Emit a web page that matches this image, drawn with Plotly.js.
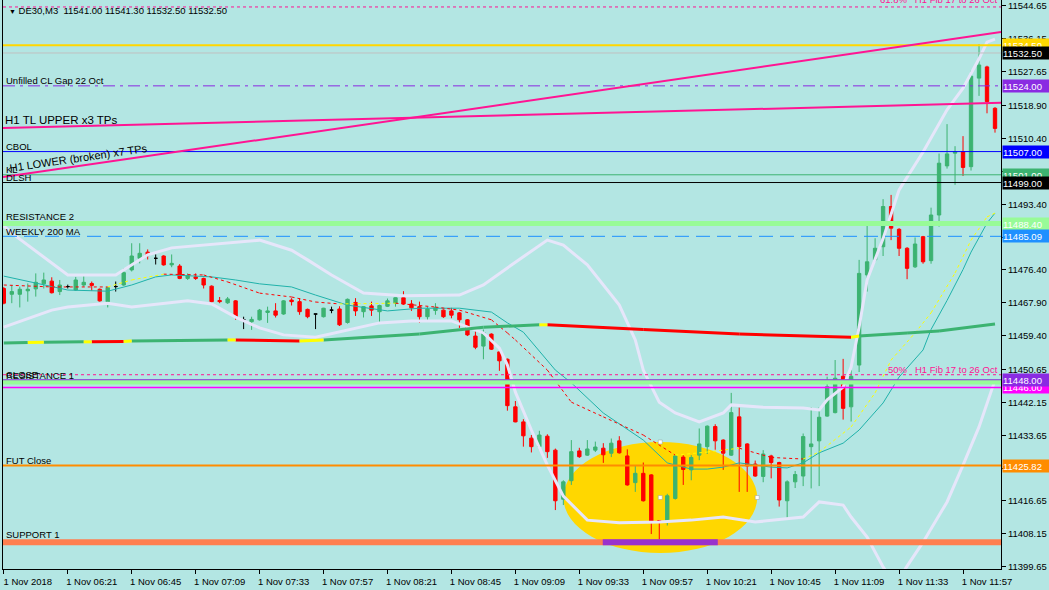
<!DOCTYPE html>
<html>
<head>
<meta charset="utf-8">
<script src="https://cdn.plot.ly/plotly-3.0.1.min.js"></script>
<style>
  html, body { margin: 0; padding: 0; background: #b3e6e3; }
  #chart { width: 1049px; height: 590px; }
</style>
</head>
<body>
<div id="chart"></div>
<script>
// DE30 M3, 1 Nov 2018 - one value per bar
const barOpen = [
  11471.6, 11470.1, 11470.1, 11471.0, 11471.5, 11472.8, 11473.5, 11470.8, 11472.1, 11471.2,
  11472.5, 11472.9, 11471.4, 11468.2, 11472.1, 11472.5, 11476.4, 11479.4, 11481.0, 11479.4,
  11480.0, 11477.7, 11477.4, 11474.2, 11474.6, 11474.2, 11472.2, 11468.5, 11467.9, 11468.4,
  11463.5, 11463.0, 11463.5, 11465.4, 11465.8, 11465.0, 11468.6, 11468.2, 11466.2, 11465.0,
  11464.3, 11466.0, 11466.3, 11462.8, 11468.0, 11465.6, 11467.1, 11465.6, 11467.0, 11467.8,
  11469.2, 11467.6, 11466.9, 11464.3, 11465.9, 11466.0, 11465.8, 11465.3, 11463.5, 11459.3,
  11456.7, 11459.8, 11455.2, 11453.3, 11441.0, 11437.1, 11432.9, 11430.7, 11433.4, 11429.8,
  11417.1, 11421.9, 11429.6, 11428.5, 11429.8, 11430.3, 11429.0, 11432.2, 11428.3, 11421.4,
  11423.8, 11423.4, 11411.6, 11411.3, 11417.3, 11428.0, 11424.7, 11428.5, 11430.7, 11435.9,
  11432.4, 11428.5, 11438.4, 11431.4, 11426.2, 11423.0, 11428.3, 11426.6, 11416.7, 11421.6,
  11423.1, 11430.7, 11432.2, 11438.6, 11439.5, 11448.9, 11441.0, 11451.8, 11475.1, 11479.0,
  11482.4, 11492.8, 11486.9, 11482.0, 11477.2, 11485.0, 11478.8, 11490.6, 11503.3, 11506.6,
  11507.0, 11503.1, 11526.0, 11528.9, 11518.2
];
const barHigh = [
  11472.0, 11472.5, 11472.1, 11472.9, 11475.5, 11475.7, 11474.5, 11473.8, 11472.6, 11474.6,
  11474.8, 11473.4, 11471.6, 11472.0, 11473.4, 11476.8, 11483.3, 11483.3, 11481.7, 11480.4,
  11480.2, 11480.4, 11477.9, 11475.5, 11475.5, 11474.4, 11472.4, 11469.4, 11469.4, 11468.6,
  11464.3, 11464.3, 11466.3, 11466.9, 11467.8, 11468.6, 11469.1, 11469.1, 11466.4, 11465.0,
  11466.6, 11466.9, 11467.0, 11469.0, 11469.1, 11467.0, 11468.2, 11467.4, 11469.0, 11469.3,
  11470.9, 11468.6, 11468.2, 11466.9, 11467.8, 11466.2, 11466.6, 11465.5, 11463.7, 11460.5,
  11461.0, 11460.0, 11455.4, 11453.5, 11442.5, 11437.8, 11433.7, 11434.8, 11433.9, 11430.2,
  11422.0, 11432.4, 11430.4, 11432.4, 11432.0, 11431.6, 11432.8, 11433.4, 11430.0, 11425.9,
  11426.6, 11423.6, 11411.7, 11418.5, 11428.5, 11428.5, 11428.5, 11435.4, 11436.2, 11436.5,
  11432.6, 11444.6, 11440.8, 11431.6, 11427.1, 11429.8, 11428.6, 11426.8, 11422.0, 11424.4,
  11434.1, 11440.9, 11440.9, 11448.8, 11453.1, 11453.4, 11450.5, 11479.0, 11488.0, 11484.6,
  11494.7, 11495.8, 11487.2, 11482.3, 11484.8, 11485.2, 11492.5, 11506.5, 11514.1, 11508.4,
  11511.0, 11527.9, 11534.8, 11529.2, 11518.5
];
const barLow = [
  11467.5, 11467.8, 11466.7, 11468.2, 11469.5, 11471.6, 11470.3, 11469.9, 11471.6, 11471.0,
  11472.1, 11471.0, 11468.2, 11466.7, 11470.8, 11472.3, 11476.0, 11478.1, 11479.1, 11477.8,
  11477.5, 11477.1, 11474.0, 11473.8, 11473.8, 11471.6, 11468.0, 11467.8, 11467.6, 11463.5,
  11461.1, 11460.9, 11463.3, 11462.7, 11464.1, 11464.8, 11467.2, 11464.8, 11463.9, 11461.1,
  11464.1, 11465.2, 11461.9, 11462.5, 11464.5, 11464.1, 11464.5, 11462.7, 11466.8, 11466.9,
  11467.4, 11465.8, 11462.7, 11463.4, 11464.8, 11464.0, 11463.9, 11461.4, 11459.3, 11455.9,
  11453.3, 11455.7, 11450.3, 11440.0, 11437.0, 11430.7, 11429.2, 11429.9, 11427.8, 11414.3,
  11415.6, 11420.8, 11427.8, 11428.3, 11429.3, 11426.5, 11428.0, 11428.9, 11420.6, 11419.0,
  11416.5, 11408.1, 11406.6, 11410.3, 11417.0, 11420.8, 11422.0, 11427.2, 11428.8, 11429.9,
  11424.7, 11428.3, 11419.0, 11419.0, 11422.9, 11421.5, 11422.5, 11415.2, 11412.2, 11420.0,
  11420.5, 11419.9, 11420.5, 11438.4, 11439.3, 11437.7, 11437.2, 11450.0, 11470.8, 11478.5,
  11480.0, 11484.1, 11480.0, 11474.0, 11476.9, 11478.0, 11478.0, 11487.6, 11502.6, 11498.4,
  11500.7, 11502.1, 11521.4, 11516.9, 11511.9
];
const barClose = [
  11467.8, 11470.8, 11471.4, 11471.4, 11473.2, 11473.8, 11470.5, 11472.5, 11472.1, 11473.8,
  11473.2, 11472.4, 11468.4, 11471.8, 11472.1, 11475.7, 11480.0, 11480.7, 11480.2, 11479.4,
  11477.7, 11478.1, 11474.2, 11474.9, 11474.2, 11472.5, 11468.2, 11468.2, 11468.9, 11464.3,
  11463.5, 11463.6, 11466.0, 11465.8, 11464.7, 11468.4, 11468.2, 11465.6, 11464.3, 11465.0,
  11466.5, 11466.0, 11462.2, 11468.8, 11465.8, 11466.9, 11466.0, 11467.2, 11468.4, 11469.2,
  11467.6, 11466.6, 11464.3, 11466.3, 11466.6, 11464.3, 11464.7, 11463.5, 11459.6, 11456.4,
  11460.2, 11455.9, 11452.9, 11441.3, 11437.1, 11433.5, 11430.7, 11433.7, 11429.4, 11416.7,
  11421.6, 11429.4, 11428.1, 11430.1, 11430.6, 11428.6, 11431.6, 11429.1, 11420.8, 11423.8,
  11416.7, 11411.3, 11411.3, 11418.0, 11428.3, 11424.8, 11427.9, 11431.4, 11436.0, 11432.2,
  11429.0, 11439.5, 11430.7, 11425.7, 11423.1, 11428.8, 11426.6, 11416.9, 11421.6, 11423.5,
  11433.3, 11431.4, 11438.3, 11446.2, 11448.4, 11440.6, 11448.9, 11475.5, 11478.5, 11482.0,
  11492.8, 11487.2, 11482.0, 11476.8, 11483.1, 11478.5, 11490.6, 11504.0, 11506.4, 11507.0,
  11502.9, 11526.5, 11529.4, 11519.9, 11513.0
];

// time axis: a label every 8 bars
const timeTickBars = [0, 8, 16, 24, 32, 40, 48, 56, 64, 72, 80, 88, 96, 104, 112, 120];
const timeTickLabels = ['1 Nov 2018', '1 Nov 06:21', '1 Nov 06:45', '1 Nov 07:09', '1 Nov 07:33',
  '1 Nov 07:57', '1 Nov 08:21', '1 Nov 08:45', '1 Nov 09:09', '1 Nov 09:33', '1 Nov 09:57',
  '1 Nov 10:21', '1 Nov 10:45', '1 Nov 11:09', '1 Nov 11:33', '1 Nov 11:57'];
const priceTicks = [11399.65, 11408.15, 11416.65, 11425.15, 11433.65, 11442.15, 11450.65, 11459.40,
  11467.90, 11476.40, 11484.90, 11493.40, 11501.90, 11510.40, 11518.90, 11527.65, 11536.15, 11544.65];

// Bollinger bands (bar index, price)
const bbUpperX = [0, 1, 8, 14, 18, 21, 32, 36, 38, 41, 45, 50, 57, 60, 64, 68, 70, 73, 77, 79,
  80, 82, 84, 87, 90, 91, 95, 100, 102, 103, 105, 106, 107, 108, 110, 112, 115, 118, 120, 122, 123, 124];
const bbUpperY = [11487.8, 11485.9, 11475.1, 11475.1, 11480.3, 11482.1, 11484.1, 11481.5, 11479.0, 11475.1,
  11470.4, 11469.7, 11469.9, 11472.5, 11478.4, 11484.1, 11482.8, 11477.7, 11467.3, 11458.3,
  11450.5, 11442.2, 11439.4, 11437.1, 11439.4, 11441.5, 11440.9, 11440.7, 11440.2, 11442.8,
  11446.1, 11451.3, 11461.6, 11473.8, 11484.5, 11497.1, 11506.9, 11517.8, 11523.4, 11531.0, 11535.3, 11536.1];
const bbLowerX = [0, 6, 8, 13, 16, 23, 26, 29, 32, 35, 39, 43, 47, 51, 56, 60, 62, 63, 64, 66,
  68, 70, 73, 77, 82, 86, 90, 94, 100, 102, 105, 106, 108, 110, 111, 112, 113, 115, 118, 120, 122, 124];
const bbLowerY = [11461.6, 11466.0, 11466.8, 11467.8, 11466.8, 11468.4, 11467.6, 11464.2, 11461.4, 11459.6,
  11459.0, 11460.9, 11462.7, 11463.2, 11463.2, 11460.1, 11456.2, 11451.8, 11444.8, 11435.0,
  11425.9, 11417.9, 11411.7, 11411.0, 11411.2, 11411.7, 11412.5, 11411.2, 11412.5, 11416.4,
  11415.6, 11412.5, 11407.3, 11399.6, 11396.5, 11396.5, 11399.8, 11406.0, 11416.4, 11425.9, 11435.8, 11447.9];

// slow MA (thin teal)
const slowMaX = [0, 4, 8, 13, 16, 19, 21, 26, 29, 32, 36, 39, 43, 48, 52, 57, 61, 63, 65, 69,
  71, 75, 80, 83, 86, 88, 90, 92, 96, 98, 100, 102, 105, 107, 110, 112, 115, 116, 118, 120, 121, 123, 124];
const slowMaY = [11474.8, 11473.0, 11471.2, 11470.9, 11472.5, 11474.6, 11475.1, 11474.6, 11473.8, 11472.8,
  11472.0, 11469.9, 11467.3, 11465.8, 11466.5, 11466.5, 11465.5, 11462.7, 11460.3, 11450.5,
  11447.2, 11439.4, 11432.4, 11426.5, 11424.9, 11424.9, 11425.4, 11426.5, 11425.4, 11425.2,
  11426.5, 11429.1, 11431.6, 11435.0, 11442.0, 11448.7, 11455.7, 11461.0, 11468.5, 11476.5, 11481.0, 11488.5, 11491.1];

// fast MA (dashed, red falling / yellow rising)
const fastMaX = [0, 6, 13, 16, 20, 25, 28, 32, 36, 39, 42, 49, 54, 57, 61, 63, 64, 68, 71, 75,
  80, 84, 88, 92, 96, 100, 102, 106, 109, 111, 114, 116, 119, 121, 123, 124];
const fastMaY = [11472.5, 11472.0, 11472.0, 11473.8, 11475.3, 11475.1, 11473.3, 11470.4, 11469.4, 11468.1,
  11467.6, 11467.8, 11466.8, 11466.0, 11463.5, 11460.1, 11458.3, 11450.5, 11442.2, 11438.4,
  11433.7, 11428.5, 11429.3, 11430.3, 11427.9, 11427.5, 11429.3, 11435.8, 11444.6, 11453.1,
  11460.1, 11465.3, 11475.6, 11484.1, 11490.1, 11491.1];

// long MA (thick), trend state of each stretch: g up, r down, y turning
const longMaX = [0, 3, 5, 10, 11, 15, 16, 28, 29, 37, 40, 52, 60, 67, 68, 80, 92, 106, 107, 113, 117, 124];
const longMaY = [11457.5, 11457.6, 11457.7, 11457.8, 11457.8, 11457.9, 11458.0, 11458.3, 11458.3, 11458.0,
  11458.3, 11459.8, 11461.6, 11462.2, 11462.2, 11461.0, 11459.8, 11459.0, 11459.3, 11460.1, 11460.6, 11462.4];
const longMaTrend = ['g', 'y', 'g', 'y', 'r', 'y', 'g', 'y', 'r', 'y', 'g', 'g', 'g', 'y', 'r', 'r', 'r', 'y', 'g', 'g', 'g'];

// H1 trendlines (bar index, price)
const tlUpperX = [-0.1, 124.75];
const tlUpperY = [11513.1, 11519.6];
const tlLowerX = [-0.1, 124.75];
const tlLowerY = [11500.4, 11537.9];

// horizontal levels
const levelPrices = [11544.4, 11534.5, 11532.5, 11524.0, 11507.0, 11501.0, 11499.0, 11488.4, 11485.09,
  11449.3, 11447.4, 11448.0, 11446.0, 11425.82, 11406.0];
const levelNames = ['61.8%   H1 Fib 17 to 26 Oct', '', '', 'Unfilled CL Gap 22 Oct', 'CBOL', 'KL', 'DLSH',
  'RESISTANCE 2', 'WEEKLY 200 MA', '50%   H1 Fib 17 to 26 Oct', 'RESISTANCE 1', 'CLOSE', '', 'FUT Close', 'SUPPORT 1'];

// price tags on the right axis
const tagPrices = [11534.50, 11532.50, 11524.00, 11507.00, 11501.00, 11499.00, 11488.40, 11485.09, 11446.00, 11448.00, 11425.82];

// ellipse drawn round the low (bar index, price corners)
const ellipseX = [70, 94.25];
const ellipseY = [11403.2, 11431.9];

const BG = '#b3e6e3';
const FONT = 'Liberation Sans, Arial, sans-serif';
const GREEN = '#3cb371';

const levelStyles = [
  {color: '#ff1493', width: 1, dash: '3px,3px', right: true, lift: 2},
  {color: '#ffd700', width: 2, dash: 'solid'},
  {color: '#c0c0c0', width: 1, dash: 'solid'},
  {color: '#8a2be2', width: 1, dash: '12px,5px,3px,5px'},
  {color: '#0000ff', width: 1, dash: 'solid'},
  {color: GREEN, width: 1, dash: 'solid'},
  {color: '#000000', width: 1, dash: 'solid'},
  {color: '#98fb98', width: 5, dash: 'solid'},
  {color: '#1e90ff', width: 1, dash: '14px,7px'},
  {color: '#ff1493', width: 1, dash: '3px,3px', right: true},
  {color: '#98fb98', width: 5, dash: 'solid'},
  {color: '#8a2be2', width: 1, dash: 'solid'},
  {color: '#ff00ff', width: 1.5, dash: 'solid'},
  {color: '#ff8c00', width: 2, dash: 'solid'},
  {color: '#ff7f50', width: 6, dash: 'solid'}
];
const tagColors = ['#ffd700', '#000000', '#8a2be2', '#0000ff', GREEN, '#000000', '#98fb98', '#1e90ff', '#ff00ff', '#8a2be2', '#ff8c00'];

// candles: dojis get their own black trace, like MT4
const bars = barOpen.map((_, i) => i);
function pickBars(keep) {
  const sel = bars.filter(keep);
  return {
    x: sel, open: sel.map(i => barOpen[i]), high: sel.map(i => barHigh[i]),
    low: sel.map(i => barLow[i]), close: sel.map(i => barClose[i])
  };
}
const mainBars = pickBars(i => barOpen[i] !== barClose[i]);
const dojiBars = pickBars(i => barOpen[i] === barClose[i]);

function segments(xs, ys, keep) {
  const x = [], y = [];
  for (let i = 0; i < xs.length - 1; i++) {
    if (!keep(i)) continue;
    x.push(xs[i], xs[i + 1], null);
    y.push(ys[i], ys[i + 1], null);
  }
  return {x, y};
}
function lineTrace(d, color, width, dash) {
  return {type: 'scatter', mode: 'lines', x: d.x, y: d.y, hoverinfo: 'skip',
    line: {color: color, width: width, dash: dash || 'solid'}, connectgaps: false};
}

const traces = [
  Object.assign({type: 'candlestick', whiskerwidth: 0, hoverinfo: 'skip',
    increasing: {line: {color: GREEN, width: 1}, fillcolor: GREEN},
    decreasing: {line: {color: '#ff0000', width: 1}, fillcolor: '#ff0000'}}, mainBars),
  Object.assign({type: 'candlestick', whiskerwidth: 0, hoverinfo: 'skip',
    increasing: {line: {color: '#000000', width: 1}, fillcolor: '#000000'},
    decreasing: {line: {color: '#000000', width: 1}, fillcolor: '#000000'}}, dojiBars),
  lineTrace({x: slowMaX, y: slowMaY}, '#20b2aa', 1),
  lineTrace(segments(fastMaX, fastMaY, i => fastMaY[i + 1] <= fastMaY[i]), '#ff0000', 1, '3px,3px'),
  lineTrace(segments(fastMaX, fastMaY, i => fastMaY[i + 1] > fastMaY[i]), '#ffff00', 1, '3px,3px'),
  lineTrace({x: bbUpperX, y: bbUpperY}, '#e6e6fa', 3),
  lineTrace({x: bbLowerX, y: bbLowerY}, '#e6e6fa', 3),
  lineTrace(segments(longMaX, longMaY, i => longMaTrend[i] === 'g'), GREEN, 3),
  lineTrace(segments(longMaX, longMaY, i => longMaTrend[i] === 'r'), '#ff0000', 3),
  lineTrace(segments(longMaX, longMaY, i => longMaTrend[i] === 'y'), '#ffff00', 3)
];

// ellipse and its selection handles
const ellCx = (ellipseX[0] + ellipseX[1]) / 2, ellCy = (ellipseY[0] + ellipseY[1]) / 2;
const ellRx = (ellipseX[1] - ellipseX[0]) / 2, ellRy = (ellipseY[1] - ellipseY[0]) / 2;
traces.push({type: 'scatter', mode: 'markers', hoverinfo: 'skip',
  x: [ellCx, ellCx, ellipseX[1]], y: [ellipseY[1], ellCy, ellCy],
  marker: {symbol: 'square', size: 4, color: '#ffffff', line: {color: '#999999', width: 0.5}}});

const shapes = [{type: 'circle', layer: 'below', xref: 'x', yref: 'y',
  x0: ellipseX[0], x1: ellipseX[1], y0: ellipseY[0], y1: ellipseY[1],
  fillcolor: '#ffd700', line: {width: 0}}];

levelPrices.forEach((p, i) => {
  const st = levelStyles[i];
  shapes.push({type: 'line', layer: 'above', xref: 'paper', yref: 'y', x0: 0, x1: 1, y0: p, y1: p,
    line: {color: st.color, width: st.width, dash: st.dash}});
});

// where SUPPORT 1 runs through the ellipse it shows purple
const supPrice = levelPrices[levelPrices.length - 1];
const dy = (supPrice - ellCy) / ellRy;
if (Math.abs(dy) < 1) {
  const half = ellRx * Math.sqrt(1 - dy * dy);
  shapes.push({type: 'line', layer: 'above', xref: 'x', yref: 'y', x0: ellCx - half, x1: ellCx + half,
    y0: supPrice, y1: supPrice, line: {color: '#9932cc', width: 6}});
}

shapes.push({type: 'line', layer: 'above', xref: 'x', yref: 'y', x0: tlUpperX[0], x1: tlUpperX[1],
  y0: tlUpperY[0], y1: tlUpperY[1], line: {color: '#ff1493', width: 2}});
shapes.push({type: 'line', layer: 'above', xref: 'x', yref: 'y', x0: tlLowerX[0], x1: tlLowerX[1],
  y0: tlLowerY[0], y1: tlLowerY[1], line: {color: '#ff1493', width: 2}});

const annotations = [];
annotations.push({xref: 'paper', yref: 'paper', x: 0, y: 1, xanchor: 'left', yanchor: 'top',
  xshift: 4, yshift: -3, showarrow: false,
  text: '<span style="font-size:7px">▼</span> DE30,M3  11541.00 11541.30 11532.50 11532.50',
  font: {family: FONT, size: 9.5, color: '#000'}});

levelNames.forEach((name, i) => {
  if (!name) return;
  const st = levelStyles[i];
  annotations.push({xref: 'paper', yref: 'y', x: st.right ? 1 : 0, y: levelPrices[i],
    xanchor: st.right ? 'right' : 'left', yanchor: 'bottom', xshift: st.right ? -2 : 2,
    yshift: st.width / 2 - 2 + (st.lift || 0), showarrow: false, text: name, borderpad: 0,
    font: {family: FONT, size: 9.5, color: st.right ? '#ff1493' : '#000'}});
});

// trendline captions
const tlAt = (xs, ys, x) => ys[0] + (ys[1] - ys[0]) * (x - xs[0]) / (xs[1] - xs[0]);
annotations.push({xref: 'paper', yref: 'y', x: 0, y: tlAt(tlUpperX, tlUpperY, 0), xanchor: 'left', yanchor: 'bottom',
  xshift: 1, yshift: 1, showarrow: false, text: 'H1 TL UPPER x3 TPs', borderpad: 0,
  font: {family: FONT, size: 11.5, color: '#000'}});
annotations.push({xref: 'x', yref: 'y', x: 9.3, y: tlAt(tlLowerX, tlLowerY, 9.3), xanchor: 'center', yanchor: 'middle',
  yshift: 8, textangle: -8.3, showarrow: false, text: 'H1 LOWER (broken) x7 TPs', borderpad: 0,
  font: {family: FONT, size: 11, color: '#000'}});

tagPrices.forEach((p, i) => {
  annotations.push({xref: 'paper', yref: 'y', x: 1, y: p, xanchor: 'left', yanchor: 'middle', xshift: 1,
    showarrow: false, text: p.toFixed(2), bgcolor: tagColors[i], borderpad: 0, width: 46, height: 12,
    align: 'left', font: {family: FONT, size: 9.5, color: '#ffffff'}});
});

const layout = {
  width: 1049, height: 590,
  margin: {l: 3, r: 48, t: 0, b: 21},
  paper_bgcolor: BG, plot_bgcolor: BG,
  showlegend: false,
  font: {family: FONT, size: 9.5, color: '#000'},
  boxgap: 0.4,
  xaxis: {range: [-0.1, 124.75], showgrid: false, zeroline: false, showline: true, linecolor: '#000',
    linewidth: 1, ticks: 'outside', ticklen: 4, tickcolor: '#000', tickvals: timeTickBars,
    ticktext: timeTickLabels, ticklabelshift: 24, rangeslider: {visible: false}, fixedrange: true,
    tickfont: {family: FONT, size: 9.5, color: '#000'}},
  yaxis: {side: 'right', range: [11399.06, 11546.2], showgrid: false, zeroline: false, showline: true,
    mirror: true, linecolor: '#000', linewidth: 1, ticks: 'outside', ticklen: 4, tickcolor: '#000',
    tickvals: priceTicks, ticktext: priceTicks.map(v => v.toFixed(2)), fixedrange: true,
    tickfont: {family: FONT, size: 9.5, color: '#000'}},
  shapes: shapes,
  annotations: annotations
};

Plotly.newPlot('chart', traces, layout, {displayModeBar: false, staticPlot: true});
</script>
</body>
</html>
